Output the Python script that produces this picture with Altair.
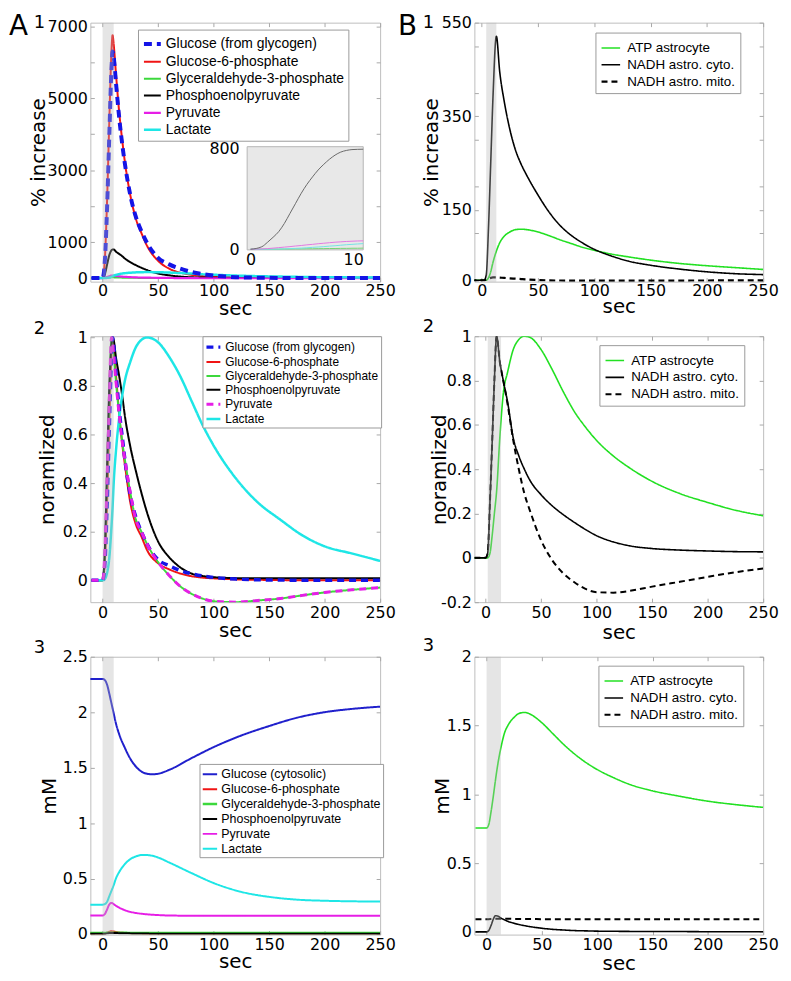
import altair as alt
import pandas as pd

FONT = "DejaVu Sans"
LFONT = "Liberation Sans"
TICKC = "#a8a8a8"
TICK = 4
LBL = "'' + datum.value"

X_TICKS = [0, 50, 100, 150, 200, 250]

# ---------------- Panel A1 / A2 (glycolytic intermediates) ----------------
T_A12 = [-10, 0, 2, 4, 6, 8, 9, 10, 12, 15, 18, 20, 25, 30, 35, 40, 50, 60, 70, 80, 90, 100, 120, 140, 160, 180, 200, 225, 250]
NAMES_A12 = ["Glucose (from glycogen)", "Glucose-6-phosphate", "Glyceraldehyde-3-phosphate",
             "Phosphoenolpyruvate", "Pyruvate", "Lactate"]

A1_GLC = [0, 0, 450, 1900, 3900, 5800, 6300, 6150, 5450, 4450, 3650, 3200, 2300, 1700, 1300, 980, 560, 380, 260, 170, 110, 70, 25, 10, 3, 0, 0, 0, 0]
A1_G6P = [0, 0, 500, 2100, 4300, 6300, 6750, 6500, 5700, 4600, 3750, 3250, 2300, 1650, 1250, 900, 480, 260, 150, 90, 55, 35, 15, 5, 0, 0, 0, 0, 0]
A1_GAP = [0, 0, 2, 8, 14, 20, 19.6, 18.6, 16.4, 13.6, 11.2, 10, 7.2, 5, 4, 3.2, 1.8, 0.6, -0.5, -1.1, -1.5, -1.7, -1.8, -1.7, -1.5, -1.2, -1, -0.8, -0.6]
A1_PEP = [0, 0, 95, 365, 630, 772, 792, 795, 735, 670, 600, 545, 440, 358, 286, 223, 127, 75, 42, 22, 14, 10, 7, 6, 6, 6, 6, 6, 6]
A1_PYR = [0, 0, 7, 28, 50, 70, 69, 65, 57, 48, 39, 35, 25, 18, 14, 11, 6, 2, -2, -4, -5, -6, -6, -6, -5, -4, -3.5, -3, -2]
A1_LAC = [0, 0, 2, 5, 15, 36, 50, 66, 87, 110, 127, 135, 148, 158, 163, 165, 162, 152, 139, 124, 104, 92, 69, 52, 41, 31, 23, 18, 13]

A2_GLC = [0, 0, 0.06, 0.29, 0.61, 0.91, 1.0, 0.97, 0.86, 0.7, 0.58, 0.5, 0.35, 0.26, 0.2, 0.15, 0.085, 0.06, 0.04, 0.027, 0.018, 0.012, 0.005, 0.002, 0.001, 0, 0, 0, 0]
A2_G6P = [0, 0, 0.07, 0.31, 0.64, 0.93, 1.0, 0.96, 0.85, 0.68, 0.55, 0.48, 0.32, 0.23, 0.18, 0.125, 0.07, 0.045, 0.028, 0.017, 0.011, 0.008, 0.004, 0.002, 0.001, 0, 0, 0, 0]
A2_GAP = [0, 0, 0.1, 0.4, 0.72, 1.0, 0.98, 0.93, 0.82, 0.68, 0.56, 0.5, 0.36, 0.25, 0.2, 0.15, 0.075, 0.02, -0.025, -0.055, -0.075, -0.086, -0.09, -0.083, -0.075, -0.062, -0.05, -0.039, -0.03]
A2_PEP = [0, 0, 0.12, 0.46, 0.79, 0.97, 1.0, 0.99, 0.92, 0.84, 0.75, 0.68, 0.55, 0.45, 0.36, 0.28, 0.16, 0.095, 0.053, 0.028, 0.018, 0.013, 0.009, 0.008, 0.008, 0.008, 0.008, 0.008, 0.008]
A2_PYR = [0, 0, 0.11, 0.41, 0.73, 1.0, 0.98, 0.93, 0.82, 0.68, 0.56, 0.5, 0.36, 0.25, 0.2, 0.15, 0.075, 0.02, -0.025, -0.055, -0.075, -0.086, -0.09, -0.083, -0.075, -0.062, -0.05, -0.039, -0.03]
A2_LAC = [0, 0, 0.005, 0.03, 0.09, 0.22, 0.3, 0.4, 0.53, 0.67, 0.77, 0.82, 0.9, 0.96, 0.99, 1.0, 0.98, 0.92, 0.84, 0.74, 0.64, 0.555, 0.42, 0.32, 0.25, 0.185, 0.14, 0.11, 0.08]

# ---------------- Panel A3 (mM) ----------------
T_A3 = [-12, 0, 2, 4, 6, 8, 10, 12, 15, 20, 25, 30, 35, 40, 45, 50, 60, 80, 100, 125, 150, 175, 200, 225, 250]
NAMES_A3 = ["Glucose (cytosolic)", "Glucose-6-phosphate", "Glyceraldehyde-3-phosphate",
            "Phosphoenolpyruvate", "Pyruvate", "Lactate"]
A3_GLC = [2.3, 2.3, 2.29, 2.25, 2.17, 2.08, 1.99, 1.9, 1.8, 1.68, 1.58, 1.51, 1.465, 1.445, 1.44, 1.445, 1.48, 1.585, 1.685, 1.79, 1.875, 1.95, 2.0, 2.03, 2.05]
A3_G6P = [0.004, 0.004, 0.006, 0.012, 0.02, 0.025, 0.022, 0.018, 0.014, 0.01, 0.008, 0.007, 0.006, 0.005, 0.005, 0.005, 0.004, 0.004, 0.004, 0.004, 0.004, 0.004, 0.004, 0.004, 0.004]
A3_GAP = [0.01, 0.01, 0.01, 0.011, 0.012, 0.012, 0.012, 0.012, 0.011, 0.011, 0.01, 0.01, 0.01, 0.01, 0.01, 0.01, 0.01, 0.01, 0.01, 0.01, 0.01, 0.01, 0.01, 0.01, 0.01]
A3_PEP = [0.002, 0.002, 0.003, 0.006, 0.009, 0.01, 0.01, 0.009, 0.008, 0.007, 0.006, 0.005, 0.004, 0.004, 0.003, 0.003, 0.003, 0.002, 0.002, 0.002, 0.002, 0.002, 0.002, 0.002, 0.002]
A3_PYR = [0.167, 0.167, 0.18, 0.22, 0.265, 0.28, 0.27, 0.255, 0.238, 0.215, 0.2, 0.19, 0.183, 0.178, 0.174, 0.171, 0.167, 0.165, 0.164, 0.164, 0.165, 0.165, 0.165, 0.165, 0.165]
A3_LAC = [0.265, 0.265, 0.27, 0.29, 0.34, 0.39, 0.44, 0.5, 0.56, 0.63, 0.675, 0.7, 0.712, 0.712, 0.705, 0.69, 0.645, 0.55, 0.46, 0.38, 0.335, 0.31, 0.3, 0.295, 0.293]

# ---------------- Panels B (astrocyte energy) ----------------
T_B = [-10, 0, 2, 4, 6, 8, 10, 13, 16, 20, 25, 30, 35, 40, 50, 60, 70, 80, 90, 100, 115, 130, 150, 175, 200, 225, 250]
NAMES_B = ["ATP astrocyte", "NADH astro. cyto.", "NADH astro. mito."]
B1_ATP = [0, 0, 0, 0, 5, 18, 38, 62, 80, 94, 103, 108, 109, 108, 103, 95, 86, 78, 70, 64, 56, 50, 43, 36, 31, 27, 23]
B1_CYT = [0, 0, 0, 10, 110, 250, 390, 521, 445, 382, 322, 278, 248, 224, 182, 145, 116, 95, 79, 66, 52, 41, 32, 24, 18, 14, 12]
B1_MIT = [0, 0, 0, 1, 3, 5, 6, 6, 5.5, 5, 4, 3.3, 2.5, 1.7, 0.5, -0.3, -0.6, -0.8, -0.9, -1, -1, -0.9, -0.8, -0.7, -0.5, -0.4, -0.3]
B2_ATP = [0, 0, 0, 0.02, 0.1, 0.2, 0.3, 0.55, 0.74, 0.84, 0.94, 0.985, 1.0, 0.995, 0.94, 0.85, 0.75, 0.66, 0.59, 0.53, 0.46, 0.405, 0.345, 0.29, 0.25, 0.215, 0.19]
B2_CYT = [0, 0, 0.02, 0.25, 0.52, 0.8, 1.0, 0.88, 0.8, 0.7, 0.54, 0.46, 0.4, 0.35, 0.285, 0.235, 0.195, 0.16, 0.128, 0.1, 0.072, 0.054, 0.042, 0.035, 0.031, 0.028, 0.027]
B2_MIT = [0, 0, 0.02, 0.25, 0.52, 0.8, 1.0, 0.88, 0.8, 0.69, 0.53, 0.4, 0.29, 0.213, 0.08, -0.01, -0.07, -0.11, -0.14, -0.155, -0.157, -0.149, -0.13, -0.108, -0.086, -0.065, -0.048]
B3_ATP = [0.755, 0.755, 0.78, 0.87, 0.98, 1.1, 1.21, 1.34, 1.44, 1.51, 1.56, 1.59, 1.595, 1.58, 1.52, 1.44, 1.36, 1.29, 1.23, 1.18, 1.12, 1.07, 1.025, 0.985, 0.95, 0.925, 0.905]
B3_CYT = [0, 0, 0.01, 0.045, 0.09, 0.117, 0.115, 0.1, 0.088, 0.074, 0.062, 0.052, 0.044, 0.037, 0.026, 0.018, 0.013, 0.009, 0.007, 0.005, 0.004, 0.003, 0.002, 0.002, 0.001, 0.001, 0.001]
B3_MIT = [0.092, 0.092, 0.092, 0.093, 0.094, 0.095, 0.095, 0.095, 0.095, 0.095, 0.094, 0.094, 0.093, 0.093, 0.092, 0.092, 0.092, 0.091, 0.091, 0.091, 0.091, 0.091, 0.091, 0.091, 0.091, 0.092, 0.092]

# ---------------- inset of A1 (first 10 s) ----------------
INS_T = [0, 1, 1.5, 2, 2.5, 3, 3.5, 4, 4.5, 5, 5.5, 6, 6.5, 7, 7.5, 8, 8.5, 9, 9.5, 10]
INS_NAMES = ["Glyceraldehyde-3-phosphate", "Lactate", "Pyruvate", "Phosphoenolpyruvate"]
INS_COLORS = ["#74d474", "#74e4e4", "#e27ae2", "#6a6a6a"]
INS_GAP = [0, 0, 0, 1, 1, 2, 2, 3, 3, 4, 4, 5, 5, 6, 6, 7, 7, 8, 8, 9]
INS_LAC = [0, 0, 0, 1, 2, 3, 5, 7, 9, 12, 15, 18, 21, 25, 28, 32, 36, 39, 42, 45]
INS_PYR = [0, 3, 5, 9, 13, 17, 21, 26, 30, 35, 39, 44, 48, 52, 56, 59, 62, 64, 66, 67]
INS_PEP = [0, 20, 55, 95, 140, 205, 285, 365, 445, 515, 575, 630, 675, 715, 748, 772, 785, 792, 794, 795]
INS_XDOM = [-0.3, 10]
INS_YDOM = [-5, 815]
INS_XLABELS = [0, 10]
INS_YLABELS = [0, 800]

# colours / styles
COL_A = ["#1414e6", "#f01414", "#3cd83c", "#000000", "#e61ee6", "#1ee6e6"]
COL_A3 = ["#2020cc", "#f01414", "#3cd83c", "#000000", "#e61ee6", "#1ee6e6"]
COL_B = ["#22e022", "#000000", "#000000"]
SOLID = [1, 0]


def long_df(t, names, series):
    rows = []
    for n, vals in zip(names, series):
        for ti, vi in zip(t, vals):
            rows.append({"t": ti, "v": vi, "series": n})
    return pd.DataFrame(rows)


def txt(s, x, y, fs):
    return alt.Chart(pd.DataFrame({"s": [s]})).mark_text(
        align="left", baseline="top", font=FONT, fontSize=fs, color="black"
    ).encode(text="s:N", x=alt.value(x), y=alt.value(y))


def panel(c):
    W, H = c["W"], c["H"]
    xs = alt.Scale(domain=c["xdom"], nice=False, zero=False)
    ys = alt.Scale(domain=c["ydom"], nice=False, zero=False)
    names = c["names"]
    L = c["leg"]
    leg = alt.Legend(title=None, orient="none", legendX=L["x"], legendY=L["y"],
                     labelFont=LFONT, labelFontSize=L["fs"], labelColor="black",
                     symbolType="stroke", symbolSize=L["size"], rowPadding=L["rp"],
                     padding=L["pad"], strokeColor="#9a9a9a", fillColor="white",
                     labelOffset=L["lo"], labelLimit=400, cornerRadius=0)
    cs = alt.Scale(domain=names, range=c["colors"])
    ds = alt.Scale(domain=names, range=c["dashes"])
    ws = alt.Scale(type="ordinal", domain=names, range=c["widths"])
    df = c["df"]
    line_layers = []
    for i, grp in enumerate(c["groups"]):
        sub = df[df["series"].isin(grp)]
        if i == 0:
            xe = alt.X("t:Q", scale=xs, axis=alt.Axis(orient="top", offset=-H, labels=False, title=None,
                                                      ticks=True, tickSize=TICK, tickColor=TICKC,
                                                      domain=False, values=X_TICKS, grid=False))
            ye = alt.Y("v:Q", scale=ys, axis=alt.Axis(orient="left", title=c["ytitle"], values=c["ylabels"],
                                                      labelExpr=LBL, ticks=False, tickSize=0, domain=False,
                                                      grid=False, labelPadding=3, titleX=c["titleX"],
                                                      titleBaseline="bottom", labelOverlap=False))
        else:
            xe = alt.X("t:Q", scale=xs, axis=None)
            ye = alt.Y("v:Q", scale=ys, axis=None)
        line_layers.append(
            alt.Chart(sub).mark_line(interpolate="monotone", clip=True).encode(
                x=xe, y=ye,
                color=alt.Color("series:N", scale=cs, legend=leg),
                strokeDash=alt.StrokeDash("series:N", scale=ds, legend=leg),
                strokeWidth=alt.StrokeWidth("series:N", scale=ws, legend=leg),
            )
        )
    band = alt.Chart(pd.DataFrame({"b0": [c["band"][0]], "b1": [c["band"][1]]})).mark_rect(
        color="#b8b8b8", opacity=0.36
    ).encode(
        x=alt.X("b0:Q", scale=xs, axis=alt.Axis(orient="bottom", title="sec", values=X_TICKS, labelExpr=LBL,
                                                ticks=False, tickSize=0, domain=False, grid=False,
                                                labelPadding=c.get("lp", 2),
                                                titleY=c["titleY"], titleBaseline="alphabetic",
                                                labelOverlap=False, labelFlush=False)),
        x2="b1:Q",
    )
    frame = pd.DataFrame({"t": c["xdom"], "v": c["ydom"]})
    f1 = alt.Chart(frame).mark_point(opacity=0).encode(
        x=alt.X("t:Q", scale=xs, axis=alt.Axis(orient="bottom", offset=-H, labels=False, title=None,
                                               ticks=True, tickSize=TICK, tickColor=TICKC, domain=False,
                                               values=X_TICKS, grid=False)),
        y=alt.Y("v:Q", scale=ys, axis=alt.Axis(orient="right", offset=-W, labels=False, title=None,
                                               ticks=True, tickSize=TICK, tickColor=TICKC, domain=False,
                                               values=c["yticks"], grid=False)),
    )
    f2 = alt.Chart(frame).mark_point(opacity=0).encode(
        x=alt.X("t:Q", scale=xs, axis=None),
        y=alt.Y("v:Q", scale=ys, axis=alt.Axis(orient="left", offset=-W, labels=False, title=None,
                                               ticks=True, tickSize=TICK, tickColor=TICKC, domain=False,
                                               values=c["yticks"], grid=False)),
    )
    main = alt.layer(*line_layers, band, f1, f2).resolve_axis(x="independent", y="independent")
    extra = [txt(s, x, y, fs) for (s, x, y, fs) in c["labels"]]
    if "inset" in c:
        return alt.layer(main, c["inset"], *extra).resolve_scale(
            x="independent", y="independent", color="independent",
            strokeDash="independent", strokeWidth="independent"
        ).properties(width=W, height=H)
    return alt.layer(main, *extra).properties(width=W, height=H)


WL, WR = 292, 291
H1, H2, H3 = 261, 268, 280

# inset (placed inside A1's plot area)
INS_XRANGE = [158, 275]
INS_YRANGE = [229, 125]
isx = alt.Scale(domain=INS_XDOM, range=INS_XRANGE, nice=False, zero=False)
isy = alt.Scale(domain=INS_YDOM, range=INS_YRANGE, nice=False, zero=False)
ins_frame = pd.DataFrame({"x0": [INS_XDOM[0]], "x1": [INS_XDOM[1]], "y0": [INS_YDOM[0]], "y1": [INS_YDOM[1]]})
ins_bg = alt.Chart(ins_frame).mark_rect(fill="#e8e8e8", stroke="#b5b5b5", strokeWidth=1).encode(
    x=alt.X("x0:Q", scale=isx, axis=alt.Axis(orient="bottom", offset=-(H1 - INS_YRANGE[0]), values=INS_XLABELS,
                                             labelExpr=LBL, title=None, ticks=False, tickSize=0, domain=False,
                                             grid=False, labelPadding=2, labelOverlap=False)),
    x2="x1:Q",
    y=alt.Y("y0:Q", scale=isy, axis=alt.Axis(orient="left", offset=-INS_XRANGE[0], values=INS_YLABELS,
                                             labelExpr=LBL, title=None, ticks=False, tickSize=0, domain=False,
                                             grid=False, labelPadding=8, labelOverlap=False)),
    y2="y1:Q",
)
ins_lines = alt.Chart(long_df(INS_T, INS_NAMES, [INS_GAP, INS_LAC, INS_PYR, INS_PEP])).mark_line(
    interpolate="monotone", strokeWidth=1
).encode(
    x=alt.X("t:Q", scale=isx, axis=None),
    y=alt.Y("v:Q", scale=isy, axis=None),
    color=alt.Color("series:N", scale=alt.Scale(domain=INS_NAMES, range=INS_COLORS), legend=None),
)
inset = alt.layer(ins_bg, ins_lines).resolve_axis(x="independent", y="independent")

A1 = panel(dict(
    W=WL, H=H1, names=NAMES_A12, colors=COL_A,
    dashes=[[8, 5], SOLID, SOLID, SOLID, SOLID, SOLID], widths=[4, 2, 2, 2, 2.2, 2.5],
    df=long_df(T_A12, NAMES_A12, [A1_GLC, A1_G6P, A1_GAP, A1_PEP, A1_PYR, A1_LAC]),
    groups=[NAMES_A12[1:], NAMES_A12[:1]],
    xdom=[-11, 250], ydom=[-100, 7100], ylabels=[0, 1000, 3000, 5000, 7000],
    yticks=[0, 1000, 2000, 3000, 4000, 5000, 6000, 7000],
    ytitle="% increase", titleX=-42, titleY=33, band=[0, 10], lp=1,
    leg=dict(x=48, y=7, fs=14, size=289, rp=0, pad=4, lo=3),
    labels=[("A", -82, -10, 28), ("1", -57, -9, 18)],
    inset=inset,
))
A2 = panel(dict(
    W=WL, H=H2, names=NAMES_A12, colors=COL_A,
    dashes=[[7, 5], SOLID, SOLID, SOLID, [7, 5], SOLID], widths=[3.5, 2, 2, 2, 3, 2.5],
    df=long_df(T_A12, NAMES_A12, [A2_GLC, A2_G6P, A2_GAP, A2_PEP, A2_PYR, A2_LAC]),
    groups=[[NAMES_A12[1], NAMES_A12[2], NAMES_A12[3], NAMES_A12[5]], [NAMES_A12[0], NAMES_A12[4]]],
    xdom=[-11, 250], ydom=[-0.09, 1.005], ylabels=[0, 0.2, 0.4, 0.6, 0.8, 1],
    yticks=[0, 0.2, 0.4, 0.6, 0.8, 1],
    ytitle="noramlized", titleX=-33, titleY=35, band=[0, 10],
    leg=dict(x=113, y=0, fs=12, size=196, rp=0, pad=2, lo=3),
    labels=[("2", -57, -16, 18)],
))
A3 = panel(dict(
    W=WL, H=H3, names=NAMES_A3, colors=COL_A3,
    dashes=[SOLID] * 6, widths=[2, 2, 2.5, 2, 2, 2],
    df=long_df(T_A3, NAMES_A3, [A3_GLC, A3_G6P, A3_GAP, A3_PEP, A3_PYR, A3_LAC]),
    groups=[NAMES_A3],
    xdom=[-11, 250], ydom=[-0.005, 2.5], ylabels=[0, 0.5, 1, 1.5, 2, 2.5],
    yticks=[0, 0.5, 1, 1.5, 2, 2.5],
    ytitle="mM", titleX=-31, titleY=33, band=[0, 10],
    leg=dict(x=110, y=108, fs=12.5, size=210, rp=0, pad=2, lo=3),
    labels=[("3", -57, -18, 18)],
))
B1 = panel(dict(
    W=WR, H=H1, names=NAMES_B, colors=COL_B,
    dashes=[SOLID, SOLID, [6, 4]], widths=[1.6, 1.6, 2.2],
    df=long_df(T_B, NAMES_B, [B1_ATP, B1_CYT, B1_MIT]),
    groups=[NAMES_B],
    xdom=[-6.5, 250], ydom=[-3, 550], ylabels=[0, 150, 350, 550],
    yticks=[0, 100, 150, 200, 300, 350, 400, 500, 550],
    ytitle="% increase", titleX=-33, titleY=31, band=[4, 13], lp=1,
    leg=dict(x=122, y=10, fs=13.5, size=350, rp=0, pad=5, lo=6),
    labels=[("B", -77, -10, 28), ("1", -52, -9, 18)],
))
B2 = panel(dict(
    W=WR, H=H2, names=NAMES_B, colors=COL_B,
    dashes=[SOLID, SOLID, [6, 4]], widths=[1.6, 1.6, 2],
    df=long_df(T_B, NAMES_B, [B2_ATP, B2_CYT, B2_MIT]),
    groups=[NAMES_B],
    xdom=[-10, 250], ydom=[-0.2, 1], ylabels=[-0.2, 0, 0.2, 0.4, 0.6, 0.8, 1],
    yticks=[-0.2, 0, 0.2, 0.4, 0.6, 0.8, 1],
    ytitle="noramlized", titleX=-25, titleY=37, band=[2, 14],
    leg=dict(x=126, y=9, fs=13.5, size=350, rp=0, pad=5, lo=6),
    labels=[("2", -52, -18, 18)],
))
B3 = panel(dict(
    W=WR, H=H3, names=NAMES_B, colors=COL_B,
    dashes=[SOLID, SOLID, [6, 4]], widths=[1.6, 1.6, 2],
    df=long_df(T_B, NAMES_B, [B3_ATP, B3_CYT, B3_MIT]),
    groups=[NAMES_B],
    xdom=[-11, 250], ydom=[-0.02, 2], ylabels=[0, 0.5, 1, 1.5, 2],
    yticks=[0, 0.5, 1, 1.5, 2],
    ytitle="mM", titleX=-22, titleY=35, band=[0, 13],
    leg=dict(x=125, y=9, fs=13.5, size=350, rp=0, pad=5, lo=6),
    labels=[("3", -52, -20, 18)],
))

chart = alt.concat(
    A1, B1, A2, B2, A3, B3, columns=2, spacing={"row": 55, "column": 95}, bounds="flush"
).resolve_scale(
    x="independent", y="independent", color="independent",
    strokeDash="independent", strokeWidth="independent"
).properties(
    padding={"left": 0, "top": 0, "right": 4, "bottom": 2}
).configure_view(
    stroke="#bdbdbd", strokeWidth=1
).configure_axis(
    labelFont=FONT, labelFontSize=16, labelColor="black",
    titleFont=FONT, titleFontSize=20, titleFontWeight="normal", titleColor="black"
)

chart.save("out.html", embed_options={"renderer": "svg", "actions": False})
